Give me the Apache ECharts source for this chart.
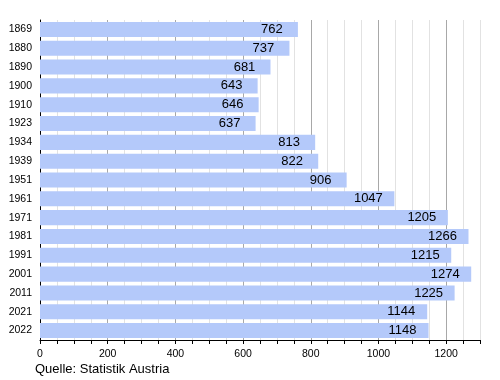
<!DOCTYPE html>
<html><head><meta charset="utf-8">
<script src="https://cdn.jsdelivr.net/npm/echarts@6/dist/echarts.min.js"></script>
<style>html,body{margin:0;padding:0;background:#fff}#c{width:500px;height:380px}</style>
</head><body><div id="c"></div>
<script>
const years = ['1869','1880','1890','1900','1910','1923','1934','1939','1951','1961','1971','1981','1991','2001','2011','2021','2022'];
const population = [762,737,681,643,646,637,813,822,906,1047,1205,1266,1215,1274,1225,1144,1148];
const xTickLabels = [0,200,400,600,800,1000,1200];
const sourceText = 'Quelle: Statistik Austria';

const chart = echarts.init(document.getElementById('c'), null, {renderer:'canvas'});
chart.setOption({
  animation:false,
  textStyle:{fontFamily:'Liberation Sans, Arial, sans-serif'},
  grid:{left:40,right:20,top:20,bottom:40},
  xAxis:{
    type:'value',min:0,max:1300,interval:50,
    axisLine:{show:true,lineStyle:{color:'#000',width:1}},
    axisTick:{show:true,length:4,lineStyle:{color:'#000'}},
    axisLabel:{color:'#000',fontSize:10.5,margin:9,
      formatter:v=>xTickLabels.includes(v)?String(v):''},
    splitLine:{show:true,lineStyle:{color:['#a8a8a8','#e2e2e2','#e2e2e2','#e2e2e2'],width:1}}
  },
  yAxis:{
    type:'category',data:years,inverse:true,
    axisLine:{show:true,lineStyle:{color:'#000',width:1}},
    axisTick:{show:false},
    axisLabel:{color:'#000',fontSize:10.5,margin:8},
    splitLine:{show:false}
  },
  series:[{
    type:'bar',data:population,barCategoryGap:'20%',
    itemStyle:{color:'#b4c9fa'},
    label:{show:true,position:'insideRight',distance:26,align:'center',color:'#000',fontSize:13}
  }],
  graphic:[{type:'text',left:35,top:363,style:{text:sourceText,fontSize:13,fill:'#000',fontFamily:'Liberation Sans, Arial, sans-serif'}}]
});
</script></body></html>
